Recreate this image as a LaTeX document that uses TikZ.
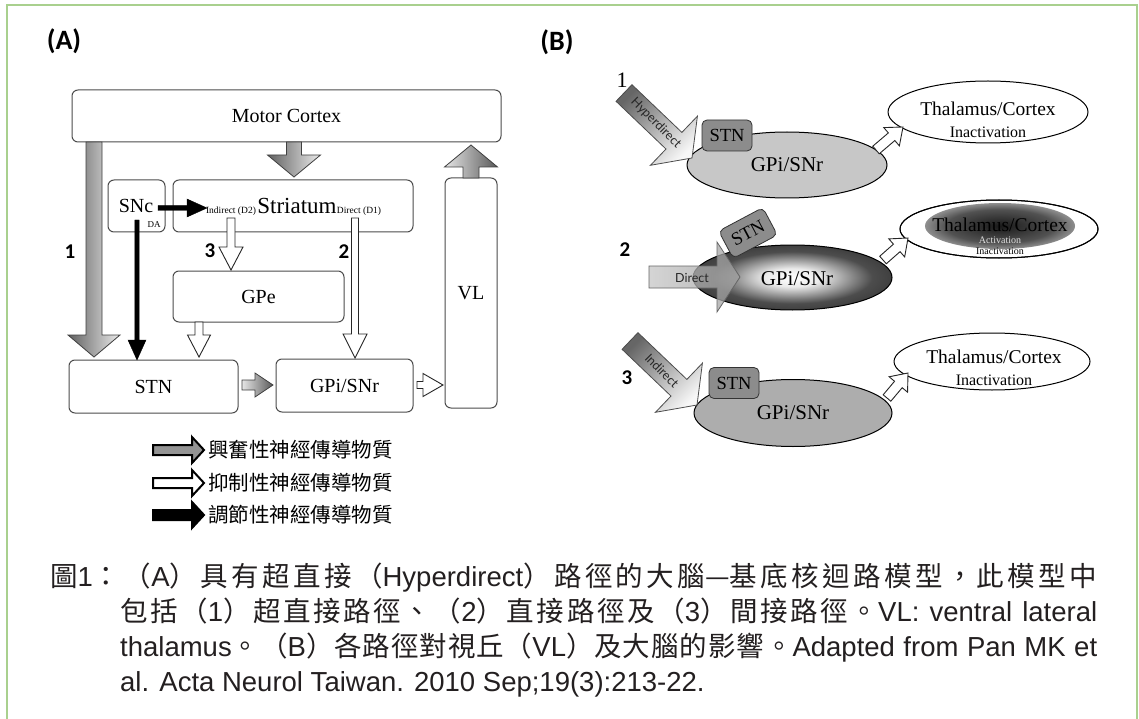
\documentclass[tikz,border=0pt]{standalone}
\usepackage{fontspec}
\setmainfont{Liberation Serif}
\newfontfamily\capfont{Liberation Sans}
\newfontfamily\cjk{Noto Sans CJK TC}
\newfontfamily\lblfont{Carlito}
\newfontfamily\gillfont{Lato}
\usetikzlibrary{calc,shapes.geometric}
\definecolor{framegreen}{RGB}{169,208,142}
\definecolor{captext}{RGB}{35,31,32}
\newcommand\setfs[1]{\fontsize{#1}{#1}\selectfont}
\XeTeXinterchartokenstate=1
\makeatletter
\count@="4E00
\loop\XeTeXcharclass\count@=7 \ifnum\count@<"9FFF \advance\count@\@ne\repeat
\count@="3000
\loop\XeTeXcharclass\count@=7 \ifnum\count@<"303F \advance\count@\@ne\repeat
\count@="FF00
\loop\XeTeXcharclass\count@=7 \ifnum\count@<"FFEF \advance\count@\@ne\repeat
\makeatother
\XeTeXinterchartoks 7 7 = {\hskip0pt plus 4pt minus 0.5pt\relax}
\pgfdeclareradialshading{gpiglow}{\pgfpointorigin}{rgb(0bp)=(1,1,1); rgb(7bp)=(0.92,0.92,0.92); rgb(20bp)=(0.3,0.3,0.3); rgb(30bp)=(0.2,0.2,0.2); rgb(50bp)=(0.2,0.2,0.2)}
\pgfdeclareradialshading{thglow}{\pgfpointorigin}{rgb(0bp)=(0.1,0.1,0.1); rgb(18bp)=(0.32,0.32,0.32); rgb(38bp)=(1,1,1); rgb(50bp)=(1,1,1)}
% block arrow: style, tail, tip, half shaft, half head, head length
\newcommand\blockarrow[6]{%
  \coordinate (ba-h) at ($(#3)!#6!(#2)$);
  \path[#1] ($(#2)!#4!90:(#3)$) -- ($(ba-h)!#4!90:(#3)$) -- ($(ba-h)!#5!90:(#3)$) -- (#3)
    -- ($(ba-h)!#5!-90:(#3)$) -- ($(ba-h)!#4!-90:(#3)$) -- ($(#2)!#4!-90:(#3)$) -- cycle;
}
\tikzset{
 box/.style={draw=black!70, line width=1pt, rounded corners=6pt, fill=white, inner sep=0pt, font=\setfs{20}},
 excit/.style={draw=black!75, line width=0.8pt, left color=black!62, right color=black!8},
 excitr/.style={draw=black!75, line width=0.8pt, left color=black!10, right color=black!65},
 inhib/.style={draw=black!85, line width=0.9pt, fill=white},
 modul/.style={draw=black, line width=0.4pt, fill=black},
 legex/.style={draw=black, line width=2pt, fill=black!42},
 legin/.style={draw=black, line width=2pt, fill=white},
 legmo/.style={draw=black, line width=2pt, fill=black},
 bexc/.style={draw=black!70, line width=0.8pt, top color=black!60, bottom color=black!3, shading angle=45},
 bdir/.style={draw=black!60, line width=0.8pt, left color=black!22, right color=black!38, fill opacity=0.75},
 num/.style={font=\lblfont\bfseries\setfs{21}, inner sep=0pt},
 lbl/.style={font=\lblfont\bfseries\setfs{28}, inner sep=0pt},
 legtext/.style={font=\cjk\setfs{20.5}, inner sep=0pt, anchor=west},
 stnb/.style={draw=black!80, line width=0.8pt, fill=black!45, rounded corners=5pt, inner sep=0pt, minimum width=50pt, minimum height=31pt, font=\setfs{18.5}},
 ell/.style={ellipse, draw=black, line width=1pt, inner sep=0pt},
 thtext/.style={font=\setfs{19.5}, inner sep=0pt},
 smalltext/.style={font=\setfs{16}, inner sep=0pt},
 tinytext/.style={font=\setfs{10}, inner sep=0pt},
 pathtext/.style={font=\gillfont\setfs{12.5}, inner sep=0pt, text=black!85},
 capline/.style={font=\capfont\setfs{27.5}, text=captext, inner sep=0pt, anchor=base west},
}
\begin{document}
\begin{tikzpicture}[x=1pt,y=-1pt]
\useasboundingbox (0,0) rectangle (1139,719);
\fill[white] (0,0) rectangle (1139,719);
\draw[framegreen, line width=2pt] (7,725) -- (7,5) -- (1137,5) -- (1137,725);

\node[lbl] (labA) at (64,41) {(A)};
\node[lbl] (labB) at (557,42) {(B)};

% ---------------- Panel A ----------------
\node[box, minimum width=429pt, minimum height=52pt] (mc) at (286.5,116) {Motor Cortex};
\node[box, minimum width=57pt, minimum height=52pt] (snc) at (136.5,206) {};
\node[box, minimum width=240pt, minimum height=52pt] (str) at (293,206) {};
\node[box, minimum width=52pt, minimum height=230pt] (vl) at (471,293) {VL};
\node[box, minimum width=171pt, minimum height=51pt] (gpe) at (258.5,296.5) {GPe};
\node[box, minimum width=169pt, minimum height=53pt] (stn) at (153.5,386.5) {STN};
\node[box, minimum width=137pt, minimum height=53pt] (gpi) at (344.5,385.5) {GPi/SNr};

\node[font=\setfs{20}, inner sep=0pt] (snct) at (136,206) {SNc};
\node[font=\setfs{9}, inner sep=0pt] (da) at (154,225) {DA};
\node[font=\setfs{23}, inner sep=0pt, anchor=base] (strt) at (297,214) {Striatum};
\node[font=\setfs{9.5}, inner sep=0pt, anchor=base] (ind) at (231,213.5) {Indirect (D2)};
\node[font=\setfs{9.5}, inner sep=0pt, anchor=base] (dir) at (359,213.5) {Direct (D1)};

% excitatory arrows
\coordinate (a1t) at (94,142); \coordinate (a1h) at (94,357);
\blockarrow{excit}{a1t}{a1h}{8pt}{26pt}{22pt}
\coordinate (a2t) at (294,142); \coordinate (a2h) at (294,177);
\blockarrow{excit}{a2t}{a2h}{7.5pt}{26.5pt}{22pt}
\coordinate (a3t) at (471,178); \coordinate (a3h) at (471,145);
\blockarrow{excitr}{a3t}{a3h}{8pt}{26.5pt}{22pt}
\coordinate (a4t) at (242,385); \coordinate (a4h) at (273,385);
\blockarrow{excitr}{a4t}{a4h}{5pt}{12pt}{18pt}
% inhibitory arrows
\coordinate (b1t) at (231,218); \coordinate (b1h) at (231,270);
\blockarrow{inhib}{b1t}{b1h}{4pt}{12pt}{23pt}
\coordinate (b2t) at (355,218); \coordinate (b2h) at (355,358);
\blockarrow{inhib}{b2t}{b2h}{3.5pt}{12pt}{24pt}
\coordinate (b3t) at (199,322); \coordinate (b3h) at (199,357);
\blockarrow{inhib}{b3t}{b3h}{4pt}{11.5pt}{22pt}
\coordinate (b4t) at (417,385); \coordinate (b4h) at (443,385);
\blockarrow{inhib}{b4t}{b4h}{3.5pt}{11.5pt}{20pt}
% modulatory arrows
\coordinate (c1t) at (158,208); \coordinate (c1h) at (207,208);
\blockarrow{modul}{c1t}{c1h}{2.5pt}{9pt}{20pt}
\coordinate (c2t) at (137,220); \coordinate (c2h) at (137,360);
\blockarrow{modul}{c2t}{c2h}{2.2pt}{9pt}{20pt}

\node[num] (n1) at (70,252) {1};
\node[num] (n3) at (210,251) {3};
\node[num] (n2) at (344,252) {2};

% legend
\coordinate (l1t) at (153,450); \coordinate (l1h) at (204,450);
\blockarrow{legex}{l1t}{l1h}{5pt}{13pt}{12pt}
\node[legtext] (lt1) at (208,450) {興奮性神經傳導物質};
\coordinate (l2t) at (153,483); \coordinate (l2h) at (204,483);
\blockarrow{legin}{l2t}{l2h}{5pt}{13pt}{12pt}
\node[legtext] (lt2) at (208,483) {抑制性神經傳導物質};
\coordinate (l3t) at (153,515); \coordinate (l3h) at (204,515);
\blockarrow{legmo}{l3t}{l3h}{5pt}{13pt}{12pt}
\node[legtext] (lt3) at (208,515) {調節性神經傳導物質};

% ---------------- Panel B ----------------
% row 1
\node[font=\setfs{22}, inner sep=0pt] (r1n) at (622,80) {1};
\node[ell, fill=black!22, minimum width=200pt, minimum height=66pt, font=\setfs{21}] (g1) at (787,165) {\raisebox{-2pt}{GPi/SNr}};
\node[stnb] (s1) at (727,135.5) {STN};
\coordinate (p1t) at (624,93); \coordinate (p1h) at (692,158);
\blockarrow{bexc}{p1t}{p1h}{11.5pt}{34pt}{25pt}
\node[pathtext, rotate=-45] (hyp) at (656,123) {Hyperdirect};
\node[ell, fill=white, minimum width=200pt, minimum height=62pt] (t1) at (988,112) {};
\node[thtext] (t1a) at (988,109) {Thalamus/Cortex};
\node[smalltext] (t1b) at (988,132) {Inactivation};
\coordinate (q1t) at (876,150); \coordinate (q1h) at (903,127);
\blockarrow{inhib}{q1t}{q1h}{5pt}{12pt}{15pt}

% row 2
\node[num] (r2n) at (625,250) {2};
\node[ell, shade, shading=gpiglow, minimum width=199pt, minimum height=65pt] (g2) at (792.5,277.5) {};
\node[font=\setfs{21}, inner sep=0pt] (g2t) at (797,279) {GPi/SNr};
\node[stnb, rotate=28] (s2) at (748,233) {STN};
\coordinate (p2t) at (649,277); \coordinate (p2h) at (740,277);
\blockarrow{bdir}{p2t}{p2h}{11pt}{35pt}{23pt}
\node[pathtext] (dirt) at (692,277.5) {Direct};
\node[ell, fill=white, minimum width=198pt, minimum height=58pt] (t2) at (999,229) {};
\node[ellipse, shade, shading=thglow, minimum width=150pt, minimum height=46pt, inner sep=0pt] (tg) at (1000,226) {};
\node[ell, minimum width=198pt, minimum height=58pt] (t2o) at (999,229) {};
\node[thtext] (t2a) at (1000,225) {Thalamus/Cortex};
\node[tinytext, text=black!12] (t2b) at (1000,240) {Activation};
\node[tinytext] (t2c) at (1000,251) {Inactivation};
\coordinate (q2t) at (883,260); \coordinate (q2h) at (908,238);
\blockarrow{inhib}{q2t}{q2h}{5pt}{12pt}{15pt}

% row 3
\node[num] (r3n) at (627,378) {3};
\node[ell, fill=black!32, minimum width=198pt, minimum height=67pt, font=\setfs{21}] (g3) at (793,413) {\raisebox{-2pt}{GPi/SNr}};
\node[stnb] (s3) at (734,383) {STN};
\coordinate (p3t) at (630,341); \coordinate (p3h) at (697,405);
\blockarrow{bexc}{p3t}{p3h}{11.5pt}{34pt}{25pt}
\node[pathtext, rotate=-45] (indt) at (662,371) {Indirect};
\node[ell, fill=white, minimum width=196pt, minimum height=57pt] (t3) at (992,361.5) {};
\node[thtext] (t3a) at (994,357) {Thalamus/Cortex};
\node[smalltext] (t3b) at (994,380) {Inactivation};
\coordinate (q3t) at (887,398); \coordinate (q3h) at (908,373);
\blockarrow{inhib}{q3t}{q3h}{5pt}{12pt}{15pt}

% ---------------- Caption ----------------
\node[capline] (cap1) at (50,586) {\hbox to 1047pt{{\cjk 圖}1{\cjk ：（}A{\cjk ）具有超直接（}Hyperdirect{\cjk ）路徑的大腦—基底核迴路模型，此模型中}}};
\node[capline] (cap2) at (120,621) {\hbox to 977pt{{\cjk 包括（}1{\cjk ）超直接路徑、（}2{\cjk ）直接路徑及（}3{\cjk ）間接路徑。}VL: ventral lateral}};
\node[capline] (cap3) at (120,656) {\hbox to 977pt{thalamus{\cjk 。（}B{\cjk ）各路徑對視丘（}VL{\cjk ）及大腦的影響。}Adapted from Pan MK et}};
\node[capline] (cap4) at (120,691) {al. Acta Neurol Taiwan. 2010 Sep;19(3):213-22.};
\end{tikzpicture}
\end{document}
